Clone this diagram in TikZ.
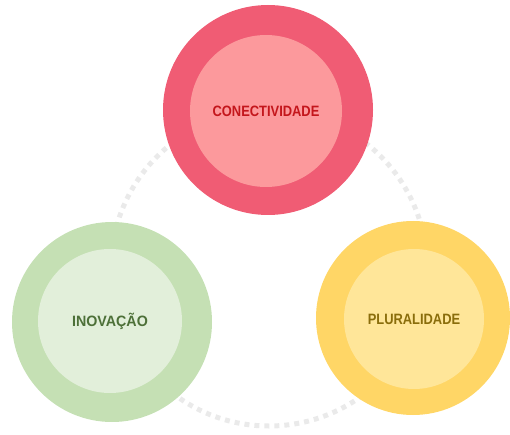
\documentclass[tikz,border=0pt]{standalone}
\usepackage{fontspec}
\newfontfamily\labelfont[FakeStretch=0.86]{Liberation Sans}
\newfontfamily\widelabelfont[FakeStretch=0.95]{Liberation Sans}
\definecolor{redout}{HTML}{F05C74}
\definecolor{redin}{HTML}{FC999C}
\definecolor{redtxt}{HTML}{C4161C}
\definecolor{greenout}{HTML}{C5E0B4}
\definecolor{greenin}{HTML}{E2EFDA}
\definecolor{greentxt}{HTML}{4D7038}
\definecolor{yellowout}{HTML}{FFD666}
\definecolor{yellowin}{HTML}{FFE699}
\definecolor{yellowtxt}{HTML}{8A6D0B}
\definecolor{ringgray}{HTML}{EAEAEA}
\tikzset{
  outer/.style={circle, draw=none, inner sep=0pt},
  inner/.style={circle, draw=none, inner sep=0pt, font=\labelfont\bfseries\fontsize{15}{18}\selectfont},
  ring/.style={draw=ringgray, line width=5pt, dash pattern=on 5pt off 5pt}
}

\begin{document}
\begin{tikzpicture}[x=1pt,y=-1pt]
		\useasboundingbox (0,0) rectangle (510,435);
		%%%%% START %%%%%
		\draw[ring] (269,268) circle [radius=158pt];
		
		\node[outer, fill=redout, minimum size=210pt] (conOut) at (268,110) {};
		\node[inner, fill=redin, minimum size=152pt, text=redtxt] (con) at (266,111) {CONECTIVIDADE};
		
		\node[outer, fill=greenout, minimum size=200pt] (inoOut) at (112,322) {};
		\node[inner, fill=greenin, minimum size=144pt, text=greentxt, font=\widelabelfont\bfseries\fontsize{15}{18}\selectfont] (ino) at (110,321) {INOVAÇÃO};
		
		\node[outer, fill=yellowout, minimum size=194pt] (pluOut) at (413,318) {};
		\node[inner, fill=yellowin, minimum size=140pt, text=yellowtxt] (plu) at (414,319) {PLURALIDADE};
		%%%%% END %%%%%
	\end{tikzpicture}
\end{document}
